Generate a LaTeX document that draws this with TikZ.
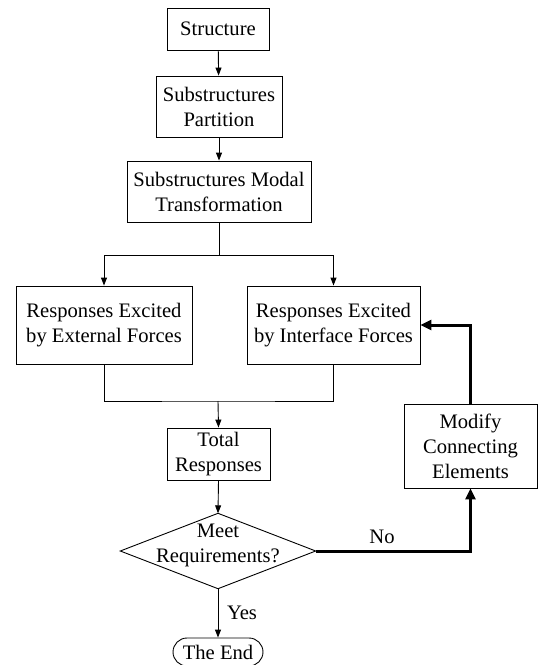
\documentclass[tikz,border=0pt]{standalone}
\usepackage{fontspec}
\setmainfont{Liberation Serif}
\usetikzlibrary{arrows.meta}
\begin{document}
\begin{tikzpicture}[x=1pt,y=-1pt,
  every node/.style={font=\fontsize{20.6}{25}\selectfont, align=center, inner sep=0pt},
  box/.style={draw, line width=0.9pt, rectangle},
  conn/.style={line width=0.9pt, -{Triangle[length=8pt,width=6pt]}},
  plain/.style={line width=0.9pt},
  thickconn/.style={line width=3pt, -{Triangle[length=11pt,width=10pt]}},
  lbl/.style={font=\fontsize{20.6}{25}\selectfont}]
\useasboundingbox (0,0) rectangle (541,665);
\node[box, minimum width=102pt, minimum height=42pt] (s) at (218,29) {Structure};
\node[box, minimum width=126pt, minimum height=61pt] (p) at (219,106.5) {Substructures\\Partition};
\node[box, minimum width=184pt, minimum height=61pt] (m) at (219,191.5) {Substructures Modal\\Transformation};
\node[box, minimum width=176pt, minimum height=78pt] (l) at (104,325) {Responses Excited\\by External Forces};
\node[box, minimum width=173pt, minimum height=78pt] (r) at (333.5,325) {Responses Excited\\by Interface Forces};
\node[box, minimum width=103pt, minimum height=52pt] (t) at (218.5,454) {Total\\Responses};
\node[box, minimum width=133pt, minimum height=84pt] (mod) at (470.5,446) {Modify\\Connecting\\Elements};
\node[minimum width=195pt, minimum height=75pt] (d) at (218,551) {};
\node at (218,545) {Meet\\Requirements?};
\draw[plain] (d.north) -- (d.east) -- (d.south) -- (d.west) -- cycle;
\node[draw, line width=0.9pt, rounded corners=14pt, minimum width=90pt, minimum height=28pt] (e) at (218,652) {The End};
\coordinate (sp) at (219,255);
\coordinate (jn) at (218,401);
\draw[conn] (s) -- (p);
\draw[conn] (p) -- (m);
\draw[plain] (m.south) -- (sp);
\draw[conn] (sp) -| (l.north);
\draw[conn] (sp) -| (r.north);
\draw[plain] (l.south) |- (jn) -| (r.south);
\draw[conn] (jn) -- (t.north);
\draw[conn] (t.south) -- (d.north);
\draw[conn] (d.south) -- (e.north);
\node[lbl] (yes) at (242,613) {Yes};
\draw[thickconn] (d.east) -| (mod.south);
\node[lbl] (no) at (382,537) {No};
\draw[thickconn] (mod.north) |- (r.east);
\end{tikzpicture}
\end{document}
